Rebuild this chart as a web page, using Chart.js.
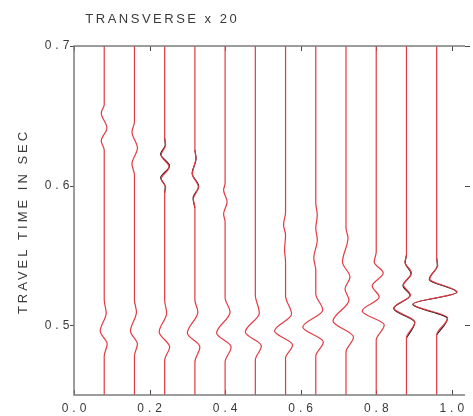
<!DOCTYPE html>
<html>
<head>
<meta charset="utf-8">
<script src="https://cdn.jsdelivr.net/npm/chart.js@4.4.0/dist/chart.umd.min.js"></script>
<style>
html, body { margin: 0; padding: 0; background: #fff; }
#wrap { width: 473px; height: 416px; }
</style>
</head>
<body>
<div id="wrap"><canvas id="seis" width="473" height="416"></canvas></div>
<script>
var T_MIN = 0.45, T_MAX = 0.7, X_MAX = 1.035;
var traceX = [0.08, 0.16, 0.24, 0.32, 0.40, 0.48, 0.56, 0.64, 0.72, 0.80, 0.88, 0.96];
var xTicks = [0.0, 0.2, 0.4, 0.6, 0.8, 1.0];
var yTicks = [0.5, 0.6, 0.7];

// picks per trace: [time in sec, amplitude], top to bottom
var tr01 = [[0.658, 0], [0.652, -0.0079], [0.6413, 0.0071], [0.632, -0.0079], [0.6255, 0],
	[0.518, 0], [0.5087, 0.0053], [0.4958, -0.0106], [0.4865, 0.0079], [0.4779, 0]];
var tr02 = [[0.6456, 0], [0.6384, -0.0066], [0.6269, 0.0079], [0.6155, -0.0066], [0.6076, 0],
	[0.518, 0], [0.5095, 0.0053], [0.4958, -0.0106], [0.4865, 0.0079], [0.4779, 0]];
var tr03 = [[0.6341, 0], [0.6291, 0.0026], [0.6219, -0.0093], [0.6133, 0.0119], [0.6047, -0.0093], [0.599, 0.0026], [0.5947, 0],
	[0.518, 0], [0.5087, 0.0053], [0.4951, -0.0146], [0.4844, 0.0132], [0.4751, 0]];
var tr04 = [[0.6255, 0], [0.6198, 0.0026], [0.6083, -0.0066], [0.599, 0.0093], [0.5904, -0.004], [0.584, 0],
	[0.518, 0], [0.5095, 0.0079], [0.4944, -0.0199], [0.4844, 0.0132], [0.4736, 0]];
var tr05 = [[0.6019, 0], [0.5968, -0.004], [0.5883, 0.0053], [0.5797, -0.004], [0.5739, 0],
	[0.5195, 0], [0.5095, 0.0132], [0.4944, -0.0225], [0.4844, 0.0159], [0.4736, 0]];
var tr06 = [[0.5216, 0], [0.5087, 0.0106], [0.4951, -0.0265], [0.4851, 0.0159], [0.4751, 0]];
var tr07 = [[0.5811, 0], [0.5718, -0.0053], [0.5646, 0], [0.5539, -0.0026], [0.5453, 0],
	[0.5209, 0], [0.508, 0.0159], [0.4958, -0.0291], [0.4858, 0.0185], [0.4765, 0]];
var tr08 = [[0.5875, 0], [0.5789, 0.004], [0.5696, 0], [0.561, 0.004], [0.5481, -0.0053], [0.5395, 0],
	[0.5223, 0], [0.5109, 0.0185], [0.4987, -0.0344], [0.488, 0.0199], [0.4779, 0]];
var tr09 = [[0.5696, 0], [0.5625, 0.0053], [0.5453, -0.0093], [0.5345, 0.0106], [0.5259, -0.0026], [0.518, 0.0079],
	[0.503, -0.0344], [0.4915, 0.0199], [0.4808, 0]];
var tr10 = [[0.5524, 0], [0.5453, -0.0053], [0.5374, 0.0185], [0.5281, -0.0106], [0.5202, 0.0079],
	[0.5102, -0.0371], [0.5001, 0.0212], [0.4894, 0]];
var tr11 = [[0.5503, 0], [0.5453, -0.004], [0.5374, 0.0132], [0.5288, -0.0079], [0.5216, 0.0106],
	[0.5123, -0.0331], [0.5023, 0.0225], [0.4908, 0]];
var tr12 = [[0.5481, 0], [0.5431, 0.0026], [0.5331, -0.0185], [0.5238, 0.0543], [0.5152, -0.0623], [0.5052, 0.0291], [0.493, 0]];
var observed = [tr01, tr02, tr03, tr04, tr05, tr06, tr07, tr08, tr09, tr10, tr11, tr12];

// synthetic picks, only where they part from the observed trace
var syn03 = [[0.6341, 0], [0.6291, 0.0016], [0.6226, -0.0108], [0.6141, 0.0128], [0.6056, -0.0106], [0.5995, 0.0015], [0.5947, 0]];
var syn04 = [[0.6255, 0], [0.6192, 0.0032], [0.6088, -0.0074], [0.5996, 0.0102], [0.591, -0.0048], [0.584, 0]];
var syn11 = [[0.5503, 0], [0.5448, -0.0032], [0.5368, 0.0122], [0.5283, -0.0092], [0.5213, 0.0096],
	[0.512, -0.0338], [0.502, 0.0218], [0.4908, 0]];
var syn12 = [[0.5481, 0], [0.5428, 0.0018], [0.5328, -0.0196], [0.5236, 0.0532], [0.515, -0.0632], [0.5048, 0.0282], [0.493, 0]];
var synIndex = [2, 3, 10, 11];
var synthetic = [syn03, syn04, syn11, syn12];

function tracePoints(x0, picks, full) {
	var pts = [];
	if (full) pts.push({x: x0, y: T_MAX});
	picks.forEach(function (p) {
		pts.push({x: x0 + p[1], y: p[0]});
	});
	if (full) pts.push({x: x0, y: T_MIN});
	return pts;
}

var datasets = [];
observed.forEach(function (picks, i) {
	datasets.push({
		data: tracePoints(traceX[i], picks, true),
		borderColor: 'rgb(226, 58, 68)',
		borderWidth: 1.2,
		cubicInterpolationMode: 'monotone',
		pointRadius: 0,
		order: 0
	});
});
synthetic.forEach(function (picks, i) {
	datasets.push({
		data: tracePoints(traceX[synIndex[i]], picks, false),
		borderColor: 'rgb(30, 20, 20)',
		borderWidth: 1.1,
		cubicInterpolationMode: 'monotone',
		pointRadius: 0,
		order: 1
	});
});

var FONT = '"Liberation Sans", Arial, Helvetica, sans-serif';

function spacedText(ctx, text, cx, y, spacing) {
	ctx.letterSpacing = spacing + 'px';
	var w = ctx.measureText(text).width;
	var visible = ('letterSpacing' in ctx) ? w - spacing : w;
	ctx.textAlign = 'left';
	ctx.fillText(text, cx - visible / 2, y);
}

var frame = {
	id: 'frame',
	beforeDatasetsDraw: function (chart) {
		var ctx = chart.ctx, a = chart.chartArea;
		var sx = chart.scales.x, sy = chart.scales.y;
		ctx.save();
		ctx.strokeStyle = '#4a4a4a';
		ctx.lineWidth = 1;
		ctx.beginPath();
		xTicks.forEach(function (v) {
			var px = Math.round(sx.getPixelForValue(v)) + 0.5;
			ctx.moveTo(px, a.bottom);
			ctx.lineTo(px, a.bottom - 5);
			ctx.moveTo(px, a.top);
			ctx.lineTo(px, a.top + 5);
		});
		yTicks.forEach(function (v) {
			var py = Math.round(sy.getPixelForValue(v)) + 0.5;
			ctx.moveTo(a.left - 4, py);
			ctx.lineTo(a.left, py);
			ctx.moveTo(a.right, py);
			ctx.lineTo(a.right + 5, py);
		});
		ctx.stroke();
		ctx.restore();
	},
	afterDatasetsDraw: function (chart) {
		var ctx = chart.ctx, a = chart.chartArea;
		var sx = chart.scales.x, sy = chart.scales.y;
		ctx.save();
		ctx.strokeStyle = '#7c7c7c';
		ctx.lineWidth = 1.5;
		ctx.beginPath();
		ctx.moveTo(a.right, a.top);
		ctx.lineTo(a.left, a.top);
		ctx.lineTo(a.left, a.bottom);
		ctx.lineTo(a.right, a.bottom);
		ctx.stroke();

		ctx.fillStyle = '#3a3a3a';
		ctx.textBaseline = 'alphabetic';
		ctx.font = '12px ' + FONT;
		xTicks.forEach(function (v) {
			spacedText(ctx, v.toFixed(1), sx.getPixelForValue(v), 412, 4);
		});
		ctx.textBaseline = 'middle';
		yTicks.forEach(function (v) {
			spacedText(ctx, v.toFixed(1), 57, sy.getPixelForValue(v), 4);
		});

		ctx.textBaseline = 'alphabetic';
		ctx.font = '13px ' + FONT;
		spacedText(ctx, 'TRANSVERSE x 20', 161, 23, 2.5);

		ctx.translate(27, 223);
		ctx.rotate(-Math.PI / 2);
		spacedText(ctx, 'TRAVEL TIME IN SEC', 0, 0, 3);
		ctx.restore();
	}
};

new Chart(document.getElementById('seis').getContext('2d'), {
	type: 'line',
	data: {datasets: datasets},
	options: {
		responsive: false,
		animation: false,
		indexAxis: 'y',
		layout: {padding: {left: 74, right: 8, top: 46, bottom: 21}},
		plugins: {
			legend: {display: false},
			tooltip: {enabled: false},
			title: {display: false}
		},
		scales: {
			x: {type: 'linear', min: 0, max: X_MAX, display: false},
			y: {type: 'linear', min: T_MIN, max: T_MAX, display: false}
		}
	},
	plugins: [frame]
});
</script>
</body>
</html>
